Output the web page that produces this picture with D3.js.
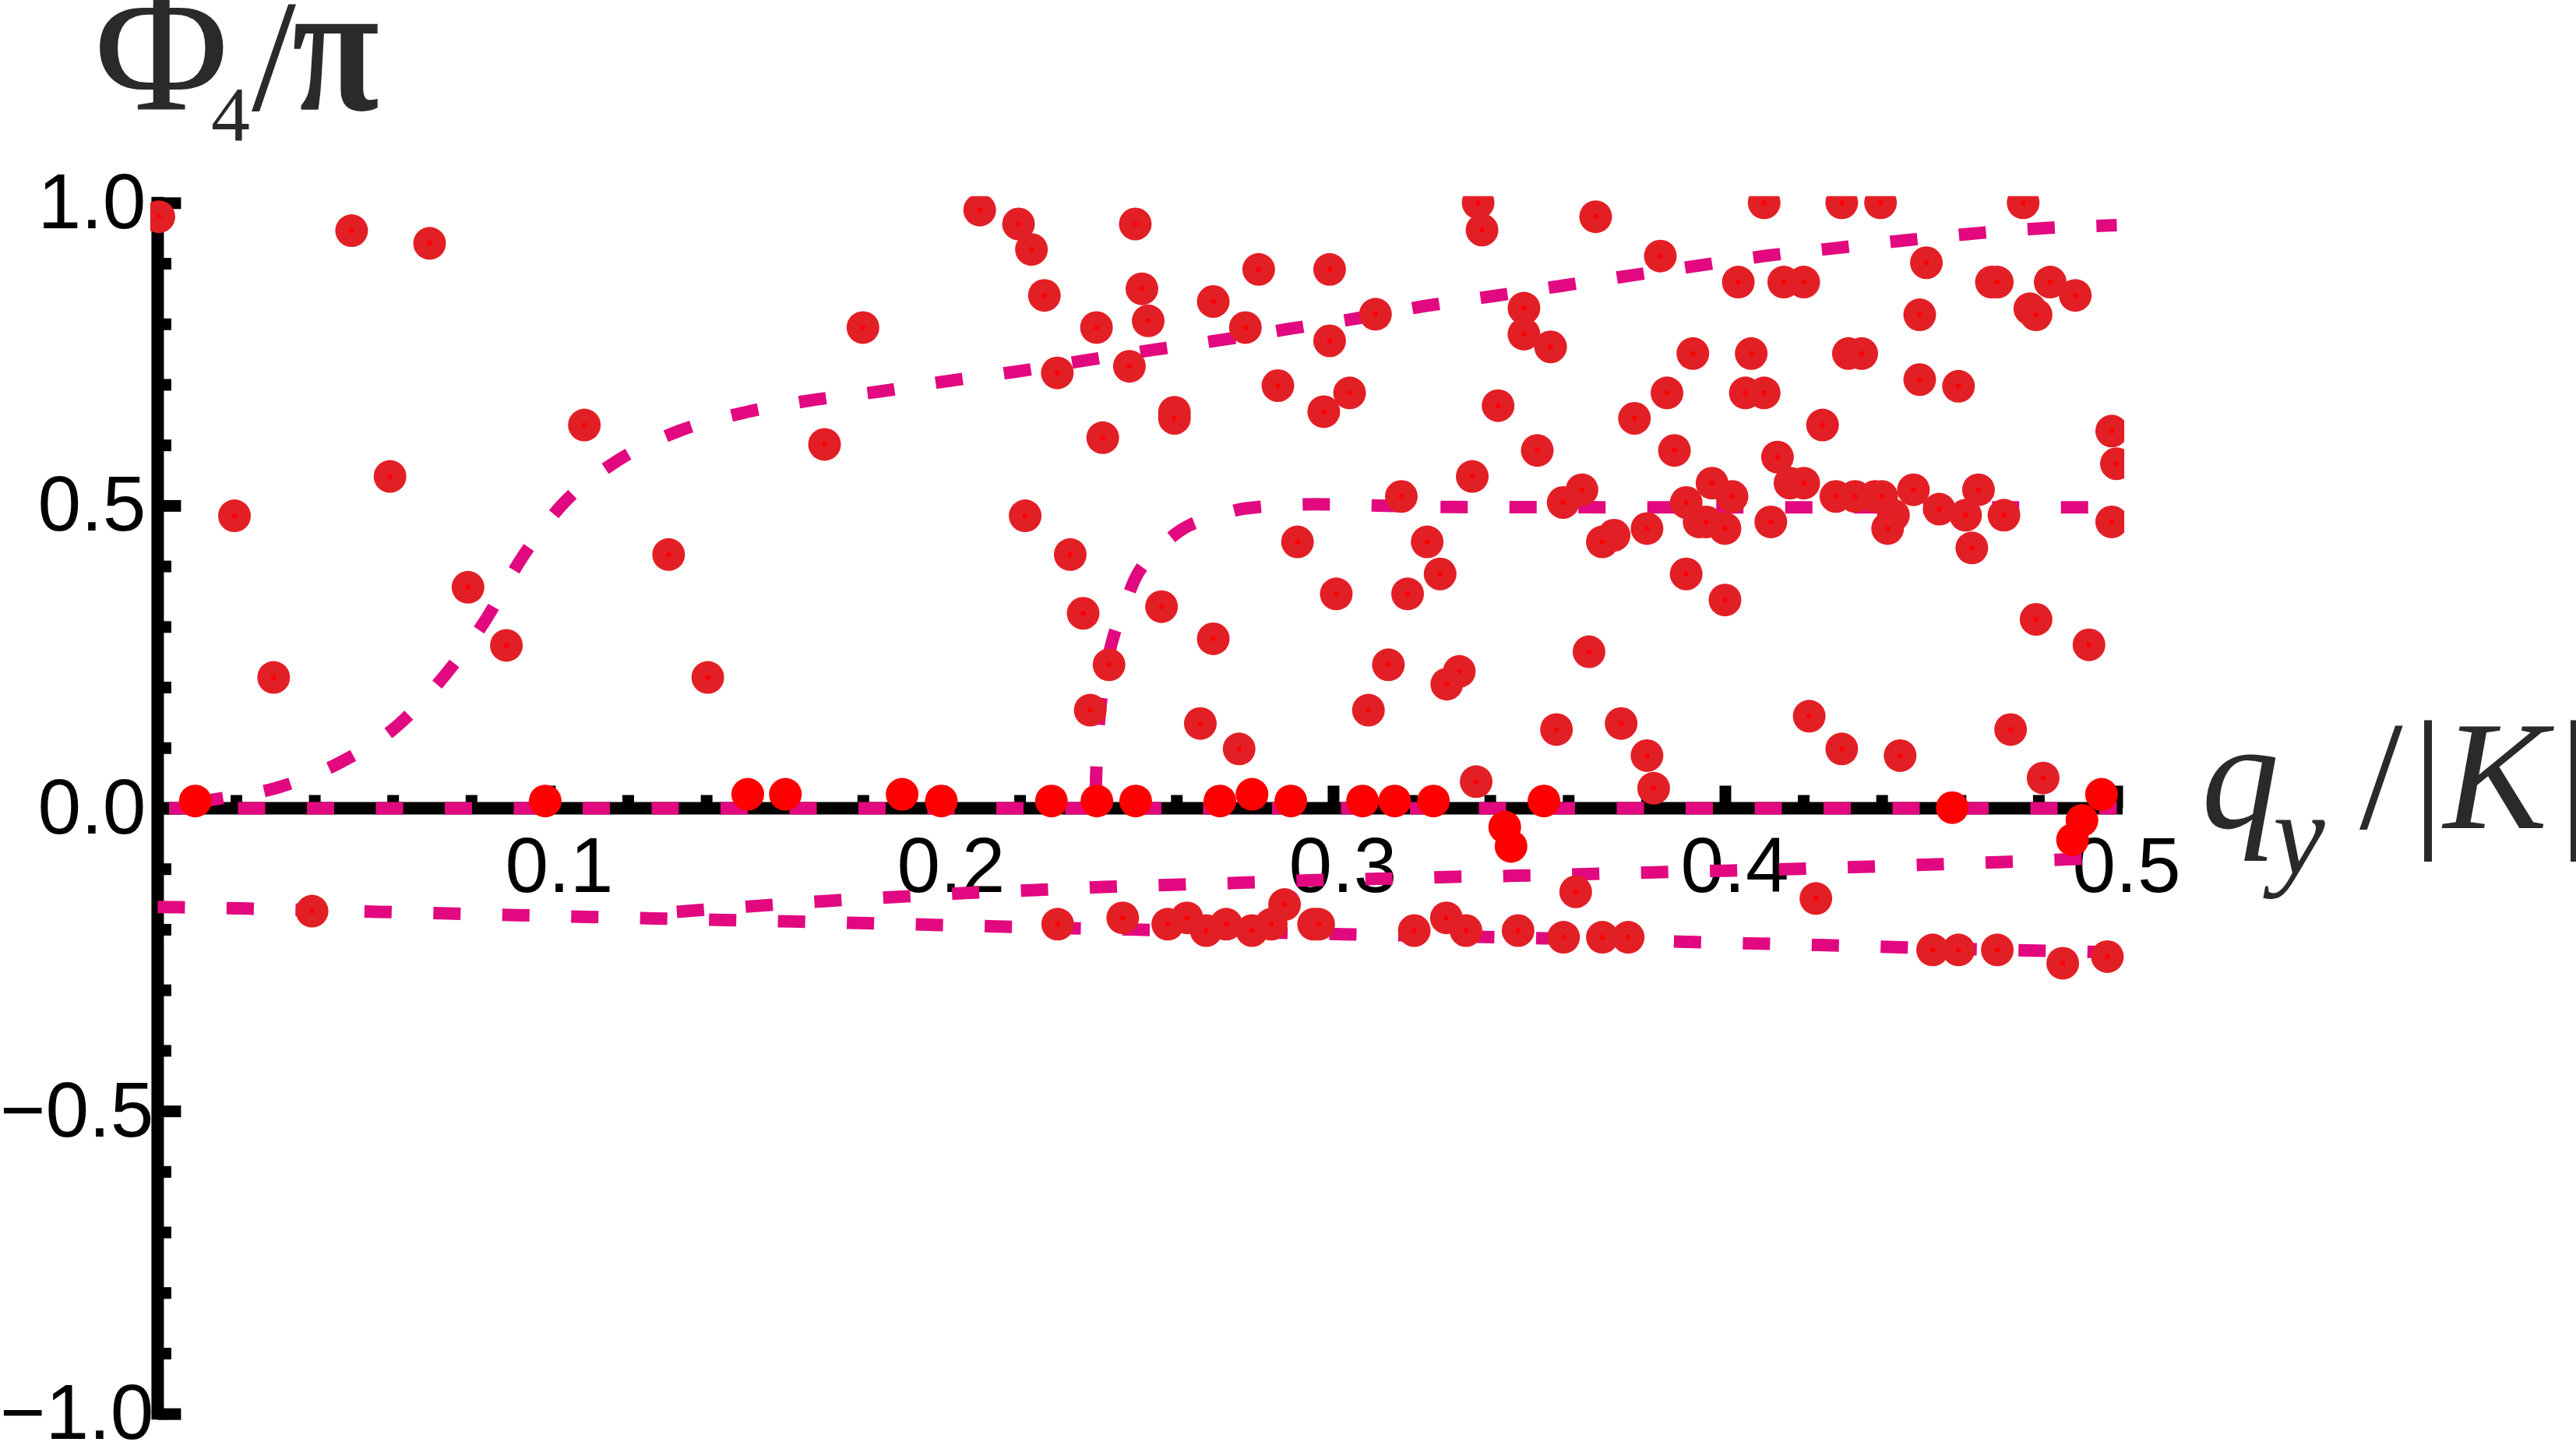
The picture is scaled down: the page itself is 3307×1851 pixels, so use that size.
<!DOCTYPE html>
<html>
<head>
<meta charset="utf-8">
<script src="https://cdn.jsdelivr.net/npm/d3@7"></script>
<style>
  body { margin: 0; background: #fff; }
  svg { display: block; }
</style>
</head>
<body>
<script>
var W = 3307, H = 1851;

// numerical points: dark red disc with a small red dot in the middle
var darkPts = [
  [0.0003,0.977],[0.0495,0.954],[0.0694,0.933],[0.0196,0.483],[0.0593,0.548],[0.1089,0.633],
  [0.0792,0.365],[0.089,0.269],[0.0296,0.216],[0.1304,0.419],[0.1404,0.216],
  [0.2098,0.988],[0.2197,0.965],[0.223,0.923],[0.2263,0.847],[0.2495,0.965],[0.2512,0.858],
  [0.2528,0.805],[0.2396,0.794],[0.180,0.794],[0.1702,0.601],[0.2296,0.719],[0.248,0.730],
  [0.2412,0.612],[0.2595,0.654],[0.2595,0.644],[0.2694,0.837],[0.281,0.890],[0.2776,0.794],
  [0.2991,0.890],[0.2991,0.772],[0.2859,0.698],[0.2976,0.655],[0.3042,0.686],[0.3108,0.816],
  [0.2214,0.483],[0.2329,0.419],[0.2362,0.322],[0.2428,0.237],[0.238,0.162],[0.2562,0.333],
  [0.2694,0.280],[0.2661,0.140],[0.276,0.098],[0.2909,0.440],[0.3008,0.354],[0.3174,0.515],
  [0.324,0.440],[0.3273,0.387],[0.319,0.354],[0.3141,0.237],[0.3322,0.226],[0.329,0.205],
  [0.309,0.162],[0.3365,0.044],[0.3355,0.548],[0.337,1.0],[0.338,0.955],
  [0.367,0.977],[0.3835,0.912],[0.41,1.0],[0.4298,1.0],[0.4397,1.0],[0.4761,1.0],
  [0.4034,0.869],[0.415,0.869],[0.4201,0.869],[0.4514,0.901],[0.468,0.869],[0.4695,0.869],
  [0.483,0.869],[0.4894,0.847],[0.4497,0.815],[0.4778,0.825],[0.4794,0.815],[0.3487,0.826],
  [0.3487,0.783],[0.3555,0.762],[0.3918,0.751],[0.4067,0.751],[0.4315,0.751],[0.4349,0.751],
  [0.3852,0.686],[0.4052,0.686],[0.41,0.686],[0.4497,0.708],[0.4596,0.697],[0.3421,0.665],
  [0.3769,0.644],[0.4249,0.633],[0.3521,0.591],[0.3871,0.591],[0.4134,0.580],[0.3967,0.537],
  [0.4018,0.515],[0.4166,0.537],[0.4201,0.537],[0.4283,0.515],[0.4332,0.515],[0.4383,0.515],
  [0.44,0.515],[0.4481,0.526],[0.4647,0.526],[0.4547,0.494],[0.4614,0.484],[0.4712,0.484],
  [0.443,0.484],[0.4415,0.462],[0.463,0.430],[0.3635,0.526],[0.3587,0.505],[0.3717,0.451],
  [0.3687,0.440],[0.3801,0.462],[0.3901,0.505],[0.3934,0.473],[0.3952,0.473],[0.40,0.462],
  [0.4117,0.473],[0.3901,0.387],[0.40,0.344],[0.4794,0.312],[0.4929,0.270],[0.4987,0.623],
  [0.4999,0.569],[0.4987,0.473],[0.3653,0.2585],[0.357,0.130],[0.3735,0.140],[0.3801,0.087],
  [0.3818,0.033],[0.4215,0.152],[0.4298,0.098],[0.4447,0.087],[0.4729,0.130],[0.4812,0.050],
  [0.0394,-0.170],[0.2297,-0.1915],[0.2463,-0.181],[0.2578,-0.1915],[0.2627,-0.181],
  [0.2676,-0.202],[0.2727,-0.1915],[0.2793,-0.202],[0.2842,-0.1915],[0.2876,-0.159],
  [0.295,-0.1915],[0.2963,-0.1915],[0.3207,-0.202],[0.3289,-0.181],[0.3339,-0.202],
  [0.3472,-0.202],[0.3588,-0.213],[0.3687,-0.213],[0.3753,-0.213],[0.453,-0.234],
  [0.4596,-0.234],[0.4695,-0.234],[0.4862,-0.256],[0.4976,-0.245],[0.3619,-0.138],[0.4232,-0.149]
];

// plain red discs, mostly sitting on the zero line
var brightPts = [
  [0.0096,0.012],[0.0989,0.012],[0.1506,0.023],[0.1602,0.023],[0.19,0.023],[0.20,0.012],
  [0.2281,0.012],[0.2397,0.012],[0.2496,0.012],[0.2711,0.012],[0.2793,0.023],[0.2892,0.012],
  [0.3075,0.012],[0.3157,0.012],[0.3256,0.012],[0.3538,0.012],[0.458,0.001],[0.4961,0.023],
  [0.4911,-0.02],[0.4887,-0.052],[0.3438,-0.031],[0.3454,-0.063]
];

// dashed analytic curves
var curveZero = [[0.0,0.0],[0.5,0.0]];
var curveRise = [
  [0.0,0.0],[0.0134,0.0135],[0.0305,0.034],[0.047,0.077],[0.0613,0.137],[0.0736,0.222],
  [0.0833,0.307],[0.0926,0.41],[0.1029,0.499],[0.1171,0.573],[0.133,0.623],[0.15,0.654],
  [0.167,0.674],[0.185,0.689],[0.202,0.706],[0.22,0.722],[0.237,0.740],[0.254,0.757],
  [0.272,0.774],[0.289,0.792],[0.306,0.809],[0.323,0.829],[0.341,0.846],[0.3585,0.863],
  [0.376,0.880],[0.393,0.896],[0.41,0.912],[0.428,0.925],[0.446,0.938],[0.463,0.949],
  [0.481,0.958],[0.5,0.963]
];
var curveStep = [
  [0.2393,0.0],[0.2395,0.05],[0.2400,0.12],[0.2405,0.16],[0.242,0.23],[0.2437,0.278],
  [0.2465,0.33],[0.2493,0.377],[0.255,0.425],[0.2613,0.46],[0.27,0.482],[0.2778,0.4954],
  [0.2955,0.502],[0.3132,0.4997],[0.331,0.4975],[0.4,0.497],[0.5,0.497]
];
var curveLowUpper = [
  [0.1325,-0.171],[0.1535,-0.161],[0.1711,-0.153],[0.1887,-0.1465],[0.2063,-0.140],
  [0.2239,-0.135],[0.2414,-0.130],[0.259,-0.1264],[0.2766,-0.123],[0.2941,-0.119],
  [0.3116,-0.1166],[0.3293,-0.1135],[0.3469,-0.1114],[0.3644,-0.1088],[0.3821,-0.1058],
  [0.3996,-0.1032],[0.4172,-0.1003],[0.4348,-0.0968],[0.4523,-0.093],[0.4699,-0.089],
  [0.4876,-0.0844],[0.5,-0.081]
];
var curveLowLower = [
  [0.0,-0.163],[0.0212,-0.1654],[0.0564,-0.171],[0.0915,-0.1765],[0.1267,-0.182],
  [0.1618,-0.187],[0.197,-0.1924],[0.2321,-0.198],[0.2497,-0.2005],[0.3025,-0.208],
  [0.3553,-0.215],[0.3904,-0.2207],[0.4255,-0.2262],[0.4606,-0.2322],[0.4958,-0.2374],
  [0.5,-0.238]
];

var xMajor = [0.1, 0.2, 0.3, 0.4, 0.5];
var xLabels = ["0.1", "0.2", "0.3", "0.4", "0.5"];
var yMajor = [-1, -0.5, 0, 0.5, 1];
var yLabels = ["\u22121.0", "\u22120.5", "0.0", "0.5", "1.0"];

var xMinor = d3.range(1, 25).filter(function (i) { return i % 5 !== 0; }).map(function (i) { return i * 0.02; });
var yMinor = d3.range(-9, 10).filter(function (i) { return i % 5 !== 0; }).map(function (i) { return i / 10; });

var svg = d3.select("body").append("svg")
    .attr("width", W)
    .attr("height", H);

svg.append("rect").attr("width", W).attr("height", H).attr("fill", "#fff");

var x = d3.scaleLinear().domain([0, 0.5]).range([202.4, 2717.5]);
var y = d3.scaleLinear().domain([-1, 1]).range([1814.7, 260.3]);

svg.append("defs").append("clipPath")
    .attr("id", "plotClip")
    .append("rect")
    .attr("x", x(-0.0019))
    .attr("y", y(1.011))
    .attr("width", x(0.5019) - x(-0.0019))
    .attr("height", y(-1.05) - y(1.011));

var tickFont = "'Liberation Sans', Arial, Helvetica, sans-serif";

// axes
var axes = svg.append("g");

axes.append("line")
    .attr("x1", x(0)).attr("x2", x(0))
    .attr("y1", y(1) - 7.5).attr("y2", y(-1) + 7.5)
    .attr("stroke", "#000").attr("stroke-width", 16);

axes.append("line")
    .attr("x1", x(0)).attr("x2", x(0.5) + 7.5)
    .attr("y1", y(0)).attr("y2", y(0))
    .attr("stroke", "#000").attr("stroke-width", 16);

var yAxis = d3.axisLeft(y)
    .tickValues(yMajor)
    .tickFormat(function (d, i) { return yLabels[i]; })
    .tickSizeInner(-30)
    .tickSizeOuter(0)
    .tickPadding(15);

var yAxisMinor = d3.axisLeft(y)
    .tickValues(yMinor)
    .tickFormat(function () { return ""; })
    .tickSizeInner(-17.5)
    .tickSizeOuter(0);

var xAxis = d3.axisBottom(x)
    .tickValues(xMajor)
    .tickFormat(function (d, i) { return xLabels[i]; })
    .tickSizeInner(-29)
    .tickSizeOuter(0)
    .tickPadding(36);

var xAxisMinor = d3.axisBottom(x)
    .tickValues(xMinor)
    .tickFormat(function () { return ""; })
    .tickSizeInner(-17)
    .tickSizeOuter(0);

[
  axes.append("g").attr("transform", "translate(" + x(0) + ",0)").call(yAxisMinor),
  axes.append("g").attr("class", "y-axis").attr("transform", "translate(" + x(0) + ",0)").call(yAxis),
  axes.append("g").attr("transform", "translate(0," + y(0) + ")").call(xAxisMinor),
  axes.append("g").attr("class", "x-axis").attr("transform", "translate(0," + y(0) + ")").call(xAxis)
].forEach(function (g) {
    g.select(".domain").remove();
    g.attr("font-size", 100).attr("font-family", tickFont);
    g.selectAll("line").attr("stroke", "#000").attr("stroke-width", 15);
    g.selectAll("text").attr("fill", "#000");
});

// labels sit a little right of their ticks in the original
axes.select(".x-axis").selectAll("text").attr("x", 12);
// negative labels are pushed right so the long minus fits
axes.select(".y-axis").selectAll(".tick text")
    .filter(function (d) { return d < 0; })
    .attr("x", -5);

// dashed curves
var plot = svg.append("g").attr("clip-path", "url(#plotClip)");

var line = d3.line()
    .x(function (d) { return x(d[0]); })
    .y(function (d) { return y(d[1]); })
    .curve(d3.curveMonotoneX);

var curves = [
  { pts: curveZero, offset: 73.9 },
  { pts: curveLowLower, offset: 0 },
  { pts: curveLowUpper, offset: 0 },
  { pts: curveRise, offset: 38.5 },
  { pts: curveStep, offset: 70 }
];

plot.selectAll("path.curve")
    .data(curves)
    .enter()
    .append("path")
    .attr("class", "curve")
    .attr("d", function (d) { return line(d.pts); })
    .attr("fill", "none")
    .attr("stroke", "#e2087f")
    .attr("stroke-width", 16)
    .attr("stroke-dasharray", "35 53.5")
    .attr("stroke-dashoffset", function (d) { return d.offset; });

// dark points with centre dot
var dark = plot.selectAll("g.dark")
    .data(darkPts)
    .enter()
    .append("g")
    .attr("class", "dark")
    .attr("transform", function (d) { return "translate(" + x(d[0]) + "," + y(d[1]) + ")"; });

dark.append("circle").attr("r", 21).attr("fill", "#e31f26");
dark.append("circle").attr("r", 3.2).attr("fill", "#ff0000");

// bright points
plot.selectAll("circle.bright")
    .data(brightPts)
    .enter()
    .append("circle")
    .attr("class", "bright")
    .attr("cx", function (d) { return x(d[0]); })
    .attr("cy", function (d) { return y(d[1]); })
    .attr("r", 21)
    .attr("fill", "#ff0000");

// axis titles
var serif = "'Liberation Serif', 'Times New Roman', Times, serif";

var yTitle = svg.append("text")
    .attr("font-family", serif)
    .attr("fill", "#2b2a29");
yTitle.append("tspan").attr("x", 121).attr("y", 141).attr("font-size", 236).text("\u03A6");
yTitle.append("tspan").attr("x", 271).attr("y", 180).attr("font-size", 100).text("4");
yTitle.append("tspan").attr("x", 323).attr("y", 141).attr("font-size", 205).text("/");

// the pi is a touch narrower than the font draws it
svg.append("text")
    .attr("transform", "translate(375,141) scale(0.85,1)")
    .attr("font-family", serif)
    .attr("font-weight", "bold")
    .attr("font-size", 240)
    .attr("fill", "#2b2a29")
    .text("\u03C0");

var xTitle = svg.append("text")
    .attr("font-family", serif)
    .attr("fill", "#2b2a29");
xTitle.append("tspan").attr("x", 2826).attr("y", 1063).attr("font-size", 200).attr("font-style", "italic").text("q");
xTitle.append("tspan").attr("x", 2918).attr("y", 1122).attr("font-size", 150).attr("font-style", "italic").text("y");
xTitle.append("tspan").attr("x", 3029).attr("y", 1063).attr("font-size", 200).text("/");
xTitle.append("tspan").attr("x", 3097).attr("y", 1063).attr("font-size", 200).text("|");
xTitle.append("tspan").attr("x", 3137).attr("y", 1063).attr("font-size", 200).attr("font-style", "italic").text("K");
xTitle.append("tspan").attr("x", 3285).attr("y", 1063).attr("font-size", 200).text("|");
</script>
</body>
</html>
